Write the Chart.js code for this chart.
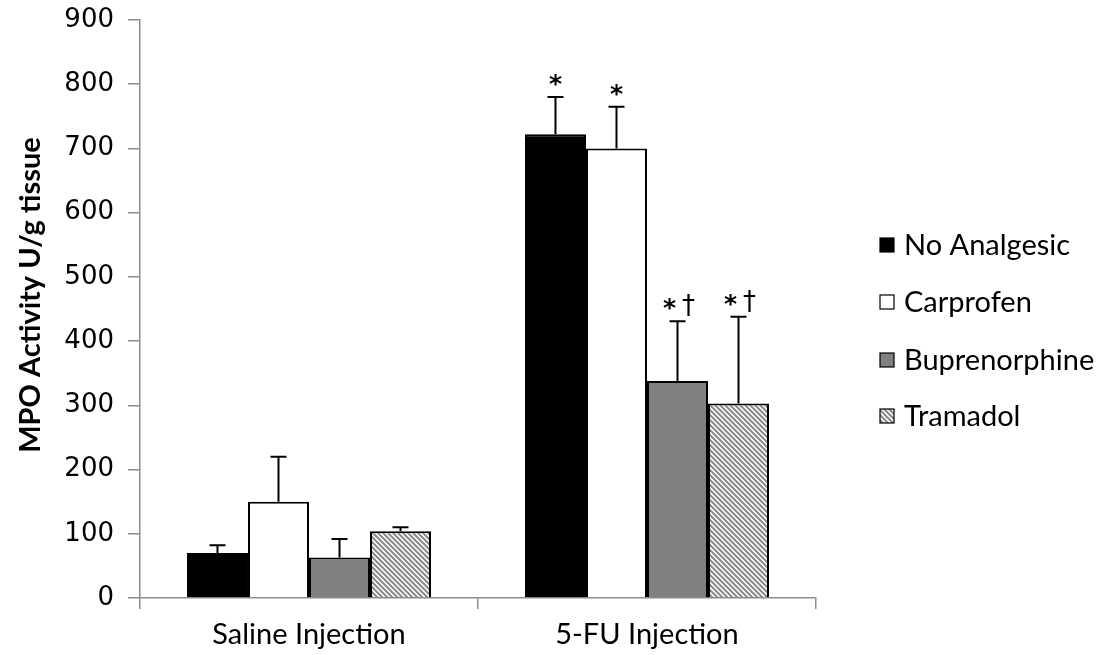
<!DOCTYPE html>
<html>
<head>
<meta charset="utf-8">
<style>
  html, body { margin: 0; padding: 0; background: #fff; }
  #wrap { width: 1117px; height: 655px; }
</style>
<script src="https://cdn.jsdelivr.net/npm/chart.js@4.4.1/dist/chart.umd.min.js"></script>
</head>
<body>
<div id="wrap"><canvas id="chart" width="1117" height="655"></canvas></div>
<script>
// values (mean + SD)
const categories = ['Saline Injection', '5-FU Injection'];
const seriesNames = ['No Analgesic', 'Carprofen', 'Buprenorphine', 'Tramadol'];

const noAnalgesic = [70, 722];
const carprofen = [150, 700];
const buprenorphine = [63, 338];
const tramadol = [104, 303];

const errNoAnalgesic = [12, 58];
const errCarprofen = [70, 65];
const errBuprenorphine = [29, 93];
const errTramadol = [6, 135];

// significance marks above each bar: star, dagger
const marksNoAnalgesic = [[false, false], [true, false]];
const marksCarprofen = [[false, false], [true, false]];
const marksBuprenorphine = [[false, false], [true, true]];
const marksTramadol = [[false, false], [true, true]];

const yTicks = [0, 100, 200, 300, 400, 500, 600, 700, 800, 900];
const yTitle = 'MPO Activity U/g tissue';

// hatch for tramadol
function makeHatch() {
  const s = 5;
  const c = document.createElement('canvas');
  c.width = s; c.height = s;
  const g = c.getContext('2d');
  g.fillStyle = '#fff';
  g.fillRect(0, 0, s, s);
  g.strokeStyle = '#8a8a8a';
  g.lineWidth = 2;
  g.beginPath();
  g.moveTo(0, 0); g.lineTo(s, s);
  g.moveTo(-1, s - 1); g.lineTo(1, s + 1);
  g.moveTo(s - 1, -1); g.lineTo(s + 1, 1);
  g.stroke();
  return g.createPattern(c, 'repeat');
}
const ctx = document.getElementById('chart').getContext('2d');
const hatch = makeHatch();

const errors = [errNoAnalgesic, errCarprofen, errBuprenorphine, errTramadol];
const marks = [marksNoAnalgesic, marksCarprofen, marksBuprenorphine, marksTramadol];

const errorBars = {
  id: 'errorBars',
  afterDatasetsDraw(chart) {
    const c = chart.ctx;
    const y = chart.scales.y;
    chart.data.datasets.forEach((ds, i) => {
      const meta = chart.getDatasetMeta(i);
      meta.data.forEach((bar, j) => {
        const top = y.getPixelForValue(ds.data[j]);
        const capY = y.getPixelForValue(ds.data[j] + errors[i][j]);
        c.save();
        c.strokeStyle = '#000';
        c.lineWidth = 2;
        c.beginPath();
        c.moveTo(bar.x, top);
        c.lineTo(bar.x, capY);
        c.moveTo(bar.x - 8, capY);
        c.lineTo(bar.x + 8, capY);
        c.stroke();
        const [star, dagger] = marks[i][j];
        c.fillStyle = '#000';
        c.textAlign = 'center';
        c.textBaseline = 'alphabetic';
        if (star) {
          c.font = 'bold 25px "DejaVu Sans"';
          c.fillText('*', dagger ? bar.x - 8 : bar.x, capY - 5);
        }
        if (dagger) {
          c.font = '26px "DejaVu Sans"';
          c.fillText('\u2020', bar.x + 11, capY - 7);
        }
        c.restore();
      });
    });
  }
};

const sideText = {
  id: 'sideText',
  afterDraw(chart) {
    const c = chart.ctx;
    const rows = [245, 302, 360, 416];
    c.save();
    chart.data.datasets.forEach((ds, i) => {
      const cy = rows[i];
      c.fillStyle = ds.backgroundColor;
      c.fillRect(880, cy - 7, 14, 14);
      c.strokeStyle = '#000';
      c.lineWidth = 1.2;
      c.strokeRect(880, cy - 7, 14, 14);
      c.fillStyle = '#000';
      c.font = '29px Lato';
      c.textAlign = 'left';
      c.textBaseline = 'middle';
      c.fillText(ds.label, 904, cy + 1);
    });
    // y axis title
    c.translate(31, 295);
    c.rotate(-Math.PI / 2);
    c.font = 'bold 29px Lato';
    c.textAlign = 'center';
    c.textBaseline = 'middle';
    c.fillText(yTitle, 0, 0);
    c.restore();
  }
};

new Chart(ctx, {
  type: 'bar',
  data: {
    labels: categories,
    datasets: [
      { label: seriesNames[0], data: noAnalgesic, backgroundColor: '#000000' },
      { label: seriesNames[1], data: carprofen, backgroundColor: '#ffffff' },
      { label: seriesNames[2], data: buprenorphine, backgroundColor: '#808080' },
      { label: seriesNames[3], data: tramadol, backgroundColor: hatch }
    ].map(d => Object.assign(d, {
      borderColor: '#000',
      borderWidth: 2,
      borderSkipped: 'bottom',
      categoryPercentage: 0.722,
      barPercentage: 1
    }))
  },
  options: {
    responsive: false,
    animation: false,
    events: [],
    layout: { padding: { left: 0, right: 301, top: 20, bottom: 0 } },
    plugins: { legend: { display: false }, tooltip: { enabled: false } },
    scales: {
      x: {
        grid: { display: true, drawOnChartArea: false, tickLength: 11, color: '#8c8c8c', lineWidth: 1.5 },
        border: { color: '#8c8c8c', width: 1.5 },
        ticks: { color: '#000', font: { family: 'Lato', size: 29 }, padding: 8 },
        afterFit(scale) { scale.height = 57; }
      },
      y: {
        min: 0,
        max: 900,
        afterBuildTicks(scale) { scale.ticks = yTicks.map(v => ({ value: v })); },
        grid: { display: true, drawOnChartArea: false, tickLength: 12, color: '#8c8c8c', lineWidth: 1.5 },
        border: { color: '#8c8c8c', width: 1.5 },
        ticks: { color: '#000', font: { family: 'DejaVu Sans', size: 26 }, padding: 14 },
        afterFit(scale) {
          scale.width = 140;
          scale.paddingTop = 0;
          scale.paddingBottom = 0;
        }
      }
    }
  },
  plugins: [errorBars, sideText]
});
</script>
</body>
</html>
